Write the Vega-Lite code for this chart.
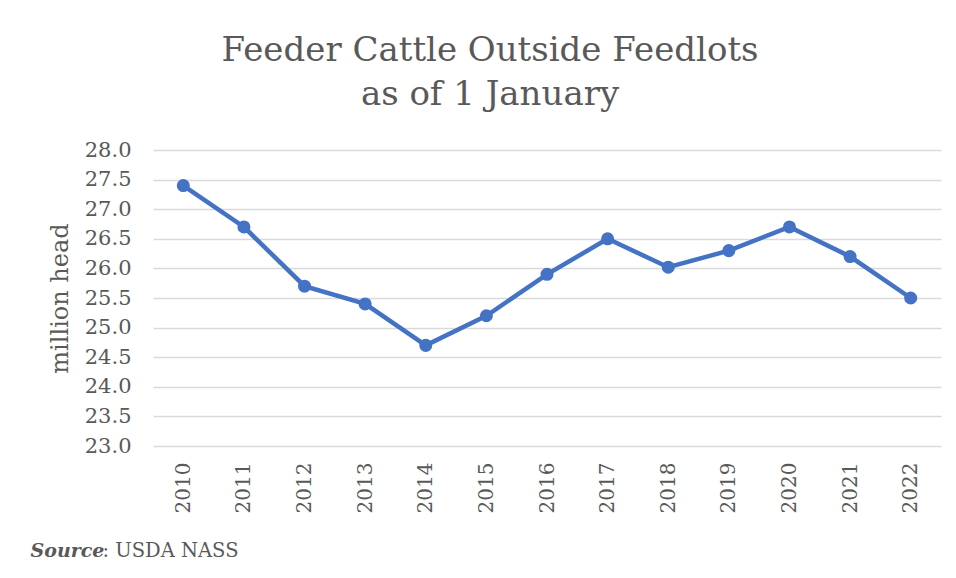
{
  "$schema": "https://vega.github.io/schema/vega-lite/v6.json",
  "autosize": {"type": "none"},
  "padding": {"left": 153, "top": 150, "right": 15, "bottom": 132},
  "width": 788,
  "height": 296,
  "background": "white",
  "title": {
    "text": ["Feeder Cattle Outside Feedlots", "as of 1 January"],
    "font": "DejaVu Serif",
    "fontSize": 34,
    "fontWeight": "normal",
    "color": "#595959",
    "lineHeight": 44,
    "anchor": "middle",
    "frame": "group",
    "dx": -57,
    "offset": 27
  },
  "data": {
    "values": [
      {"year": "2010", "head": 27.4},
      {"year": "2011", "head": 26.7},
      {"year": "2012", "head": 25.7},
      {"year": "2013", "head": 25.4},
      {"year": "2014", "head": 24.7},
      {"year": "2015", "head": 25.2},
      {"year": "2016", "head": 25.9},
      {"year": "2017", "head": 26.5},
      {"year": "2018", "head": 26.02},
      {"year": "2019", "head": 26.3},
      {"year": "2020", "head": 26.7},
      {"year": "2021", "head": 26.2},
      {"year": "2022", "head": 25.5}
    ]
  },
  "config": {
    "view": {"stroke": null},
    "axis": {
      "labelFont": "DejaVu Serif",
      "titleFont": "DejaVu Serif",
      "labelColor": "#595959",
      "titleColor": "#595959",
      "domain": false,
      "ticks": false,
      "gridColor": "#D9D9D9",
      "gridWidth": 1.5
    }
  },
  "layer": [
    {
      "mark": {"type": "line", "color": "#4472C4", "strokeWidth": 4.5},
      "encoding": {
        "x": {
          "field": "year",
          "type": "ordinal",
          "sort": null,
          "axis": {
            "orient": "bottom",
            "labelAngle": -90,
            "labelFontSize": 20,
            "labelPadding": 16,
            "grid": false,
            "title": "Source",
            "titleFontSize": 19,
            "titleFontStyle": "italic",
            "titleFontWeight": "bold",
            "titleAnchor": "start",
            "titleAlign": "left",
            "titleBaseline": "alphabetic",
            "titleX": -123,
            "titleY": 110
          }
        },
        "y": {
          "field": "head",
          "type": "quantitative",
          "scale": {"domain": [23, 28], "nice": false, "zero": false},
          "axis": {
            "values": [23, 23.5, 24, 24.5, 25, 25.5, 26, 26.5, 27, 27.5, 28],
            "format": ".1f",
            "labelOverlap": false,
            "labelFontSize": 21,
            "labelPadding": 22,
            "title": "million head",
            "titleFontSize": 24,
            "titleFontWeight": "normal",
            "titlePadding": 12
          }
        }
      }
    },
    {
      "mark": {"type": "point", "filled": true, "opacity": 1, "color": "#4472C4", "size": 170},
      "encoding": {
        "x": {
          "field": "year",
          "type": "ordinal",
          "sort": null,
          "axis": {
            "orient": "bottom",
            "labels": false,
            "grid": false,
            "title": ": USDA NASS",
            "titleFontSize": 19.5,
            "titleFontWeight": "normal",
            "titleAnchor": "start",
            "titleAlign": "left",
            "titleBaseline": "alphabetic",
            "titleX": -51,
            "titleY": 110
          }
        },
        "y": {
          "field": "head",
          "type": "quantitative",
          "scale": {"domain": [23, 28], "nice": false, "zero": false},
          "axis": {
            "values": [23, 23.5, 24, 24.5, 25, 25.5, 26, 26.5, 27, 27.5, 28],
            "format": ".1f",
            "labelOverlap": false,
            "labelFontSize": 21,
            "labelPadding": 22,
            "title": "million head",
            "titleFontSize": 24,
            "titleFontWeight": "normal",
            "titlePadding": 12
          }
        }
      }
    }
  ],
  "resolve": {"axis": {"x": "independent"}}
}
